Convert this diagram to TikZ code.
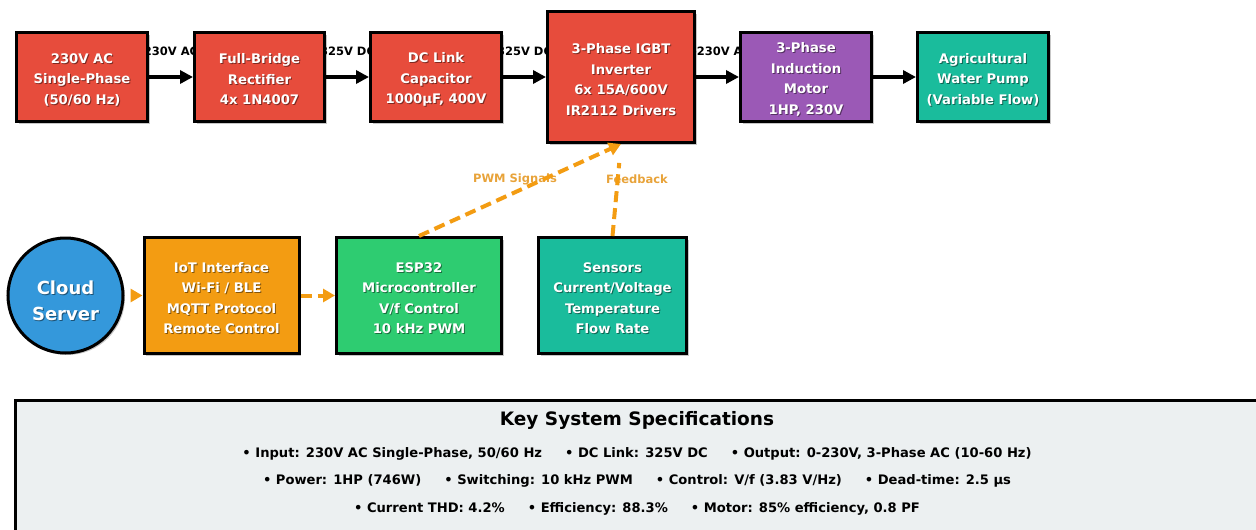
\documentclass[tikz,border=0pt]{standalone}
\usepackage{fontspec}
\setmainfont{DejaVu Sans}
\usetikzlibrary{arrows.meta,shadows,calc}
\definecolor{cred}{HTML}{E74C3C}
\definecolor{cpurple}{HTML}{9B59B6}
\definecolor{cteal}{HTML}{1ABC9C}
\definecolor{corange}{HTML}{F39C12}
\definecolor{cgreen}{HTML}{2ECC71}
\definecolor{cblue}{HTML}{3498DB}
\definecolor{cgray}{HTML}{ECF0F1}
\definecolor{clbl}{HTML}{E8A33A}
\pgfdeclarelayer{bg}
\pgfsetlayers{bg,main}
\tikzset{
  blk/.style={draw=black, line width=3pt, inner sep=0pt,
    drop shadow={shadow xshift=2pt, shadow yshift=-2pt, fill=black, opacity=0.22}},
  txt/.style={text=white, align=center, font=\bfseries\fontsize{13.2}{20.5}\selectfont},
  txtsh/.style={txt, text=black, text opacity=0.45},
  pwr/.style={line width=4pt, -{Triangle[length=13pt,width=13pt]}},
  ctl/.style={draw=corange, line width=4pt, dash pattern=on 11pt off 6pt,
    -{Triangle[length=12pt,width=13pt]}, color=corange},
  ctlline/.style={draw=corange, line width=4pt, dash pattern=on 11pt off 6pt},
  lbl/.style={font=\bfseries\fontsize{11.5}{13}\selectfont},
  clbl/.style={lbl, text=clbl},
  spec/.style={font=\bfseries\fontsize{13.1}{15}\selectfont}
}
\newcommand\bx[6]{%
  \node[blk, fill=#5, minimum width=#3, minimum height=#4] (#1) at (#2) {};
  \node[txtsh] at ($(#1.center)+(1,3.5)$) {#6};
  \node[txt] at ($(#1.center)+(0,2.5)$) {#6};
}
\begin{document}
\begin{tikzpicture}[x=1pt,y=-1pt]
\useasboundingbox (0,0) rectangle (1256,530);
\clip (0,0) rectangle (1256,530);
% top row
\bx{b1}{82,77}{131pt}{89pt}{cred}{230V AC\\Single-Phase\\(50/60 Hz)}
\bx{b2}{259.5,77}{130pt}{89pt}{cred}{Full-Bridge\\Rectifier\\4x 1N4007}
\bx{b3}{436,77}{131pt}{89pt}{cred}{DC Link\\Capacitor\\1000µF, 400V}
\bx{inv}{621,77}{147pt}{131pt}{cred}{3-Phase IGBT\\Inverter\\6x 15A/600V\\IR2112 Drivers}
\bx{mot}{806,77}{131pt}{89pt}{cpurple}{3-Phase\\Induction\\Motor\\1HP, 230V}
\bx{pump}{983,77}{131pt}{89pt}{cteal}{Agricultural\\Water Pump\\(Variable Flow)}
% bottom row
\node[blk, circle, fill=cblue, minimum size=115pt] (cloud) at (65.5,295.5) {};
\node[txtsh, font=\bfseries\fontsize{18}{26}\selectfont] at ($(cloud.center)+(1,6)$) {Cloud\\Server};
\node[txt, font=\bfseries\fontsize{18}{26}\selectfont] at ($(cloud.center)+(0,5)$) {Cloud\\Server};
\bx{iot}{221.5,295.5}{155pt}{116pt}{corange}{IoT Interface\\Wi-Fi / BLE\\MQTT Protocol\\Remote Control}
\bx{esp}{419,295.5}{165pt}{116pt}{cgreen}{ESP32\\Microcontroller\\V/f Control\\10 kHz PWM}
\bx{sens}{612.5,295.5}{148pt}{116pt}{cteal}{Sensors\\Current/Voltage\\Temperature\\Flow Rate}
% power arrows
\draw[pwr] (b1.east) -- (b2.west);
\draw[pwr] (b2.east) -- (b3.west);
\draw[pwr] (b3.east) -- (b3.east -| inv.west);
\draw[pwr] (inv.east |- mot.west) -- (mot.west);
\draw[pwr] (mot.east) -- (pump.west);
\begin{pgfonlayer}{bg}
  \node[lbl] at ($(b1.east)!0.5!(b2.west)+(0,-26)$) {230V AC};
  \node[lbl] at ($(b2.east)!0.5!(b3.west)+(0,-26)$) {325V DC};
  \node[lbl] at ($(b3.east)!0.5!(b3.east -| inv.west)+(0,-26)$) {325V DC};
  \node[lbl] at ($(inv.east |- mot.west)!0.5!(mot.west)+(0,-26)$) {0-230V AC};
  \node[clbl] (pwml) at (515,179) {PWM Signals};
  \node[clbl] (fbl) at (637,179) {Feedback};
\end{pgfonlayer}
% control arrows
\draw[ctl, dash pattern=on 0pt off 20pt] (cloud.east) -- (iot.west);
\draw[ctl] (iot.east) -- (esp.west);
\draw[ctl] (esp.north) -- (inv.south);
\draw[ctlline, shorten >=19pt] (sens.north) -- (inv.south);
% specs
\node[draw=black, line width=3pt, fill=cgray, minimum width=1280pt, minimum height=146pt, anchor=north west] (specbox) at (14,399) {};
\node[font=\bfseries\fontsize{18.5}{20}\selectfont] (title) at (637,420) {Key System Specifications};
\node[spec] (l1) at (637,454) {• Input: 230V AC Single-Phase, 50/60 Hz\hspace{23pt}• DC Link: 325V DC\hspace{23pt}• Output: 0-230V, 3-Phase AC (10-60 Hz)};
\node[spec] (l2) at (637,481) {• Power: 1HP (746W)\hspace{23pt}• Switching: 10 kHz PWM\hspace{23pt}• Control: V/f (3.83 V/Hz)\hspace{23pt}• Dead-time: 2.5 µs};
\node[spec] (l3) at (637,509) {• Current THD: 4.2\%\hspace{23pt}• Efficiency: 88.3\%\hspace{23pt}• Motor: 85\% efficiency, 0.8 PF};
\end{tikzpicture}
\end{document}
